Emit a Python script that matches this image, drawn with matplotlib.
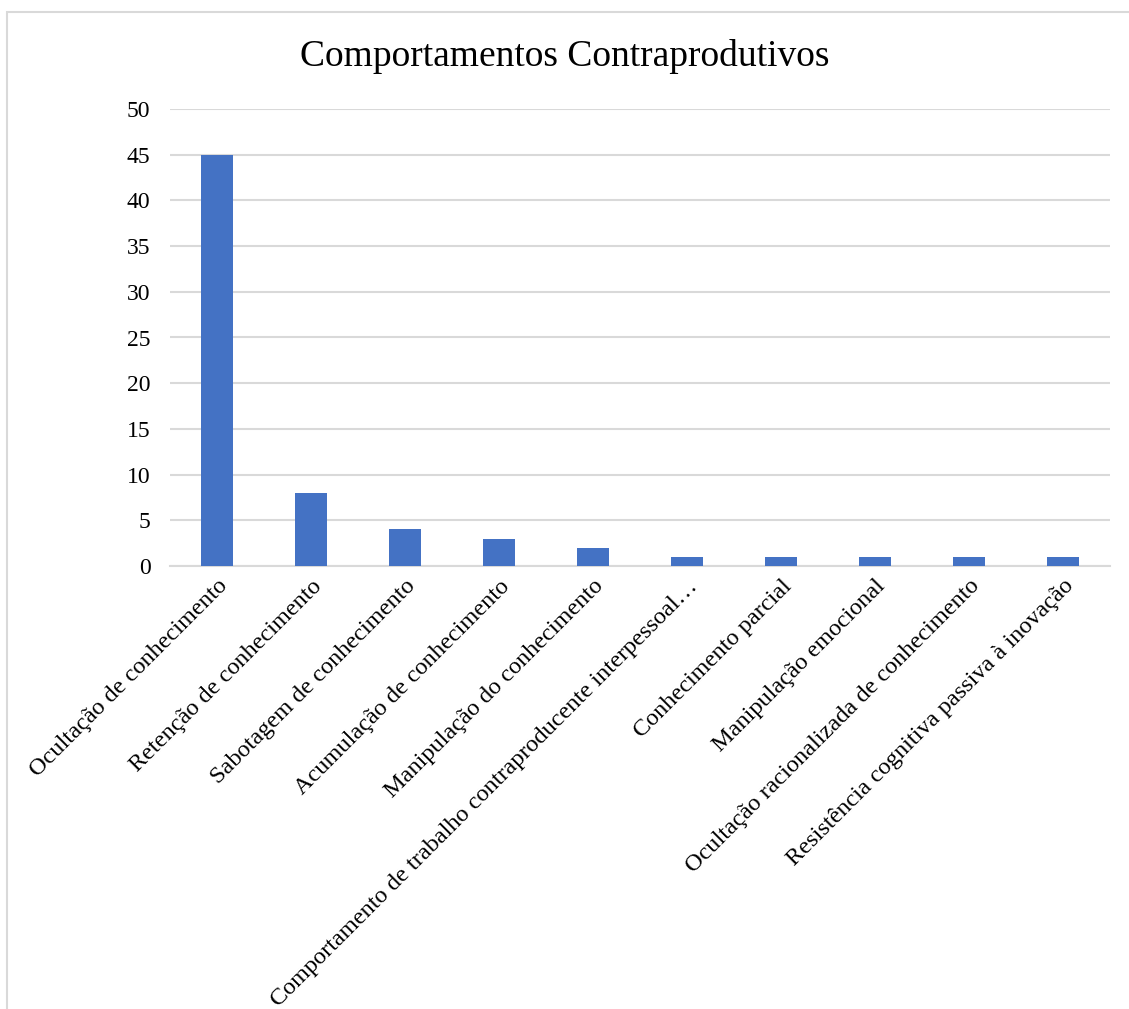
import matplotlib.pyplot as plt
from matplotlib.patches import Rectangle

categories = [
    'Ocultação de conhecimento',
    'Retenção de conhecimento',
    'Sabotagem de conhecimento',
    'Acumulação de conhecimento',
    'Manipulação do conhecimento',
    'Comportamento de trabalho contraproducente interpessoal…',
    'Conhecimento parcial',
    'Manipulação emocional',
    'Ocultação racionalizada de conhecimento',
    'Resistência cognitiva passiva à inovação',
]
values = [45, 8, 4, 3, 2, 1, 1, 1, 1, 1]
yticks = [0, 5, 10, 15, 20, 25, 30, 35, 40, 45, 50]

plt.rcParams['font.family'] = ['Liberation Serif', 'DejaVu Serif']

fig = plt.figure(figsize=(11.29, 10.09), dpi=100)
# chart frame (light grey, runs off the bottom and right edges)
fig.patches.append(Rectangle((7 / 1129, -0.05), 1.05, 1.05 - 12 / 1009,
                             transform=fig.transFigure, fill=False,
                             edgecolor='#d9d9d9', linewidth=1.5))

ax = fig.add_axes([170 / 1129, 1 - 566 / 1009, 940 / 1129, 457 / 1009])
x = range(len(categories))
ax.bar(x, values, width=0.35, color='#4472C4', zorder=3)
ax.set_xlim(-0.5, len(categories) - 0.5)
ax.set_ylim(0, 50)
ax.set_yticks(yticks)
ax.grid(axis='y', color='#d9d9d9', linewidth=1.5, zorder=0)
for s in ('top', 'right', 'left'):
    ax.spines[s].set_visible(False)
ax.spines['bottom'].set_color('#d9d9d9')
ax.spines['bottom'].set_linewidth(1.5)
ax.tick_params(axis='y', length=0, pad=14, labelsize=17)
ax.tick_params(axis='x', length=0, pad=7, labelsize=17.5)
ax.set_xticks(list(x))
ax.set_xticklabels(categories, rotation=45, ha='right', rotation_mode='anchor')
for lbl in ax.get_xticklabels():
    lbl.set_x(lbl.get_position()[0])
fig.text(565 / 1129, 1 - 57 / 1009, 'Comportamentos Contraprodutivos',
         ha='center', va='center', fontsize=27)

fig.savefig('out.png', dpi=100)
